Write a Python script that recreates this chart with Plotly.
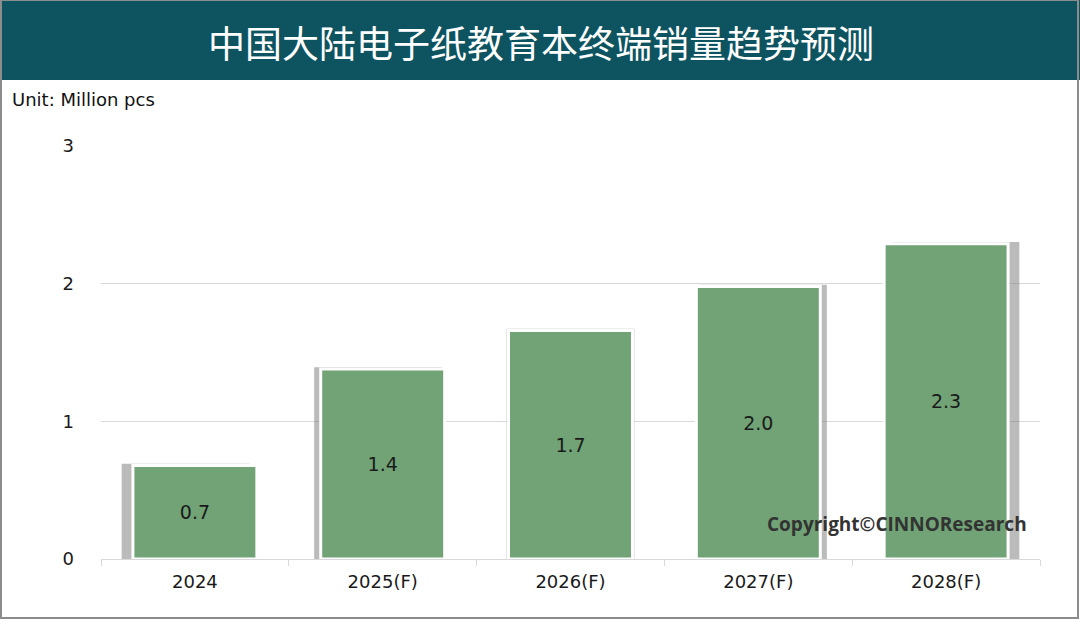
import plotly.graph_objects as go

categories = ["2024", "2025(F)", "2026(F)", "2027(F)", "2028(F)"]
values = [0.68, 1.38, 1.66, 1.98, 2.29]
labels = ["0.7", "1.4", "1.7", "2.0", "2.3"]
shadow_shift = [-0.05, -0.025, 0.0, 0.025, 0.05]
y_ticks = [0, 1, 2, 3]

W, H = 1080, 619
ML, MR, MT, MB = 101, 40, 146, 60
PW, PH = W - ML - MR, H - MT - MB


def px_x(p):
    return (p - ML) / PW


def px_y(p):
    return 1 - (p - MT) / PH


FONT = "'DejaVu Sans', sans-serif"
green = "#71A376"

fig = go.Figure()

# soft shadow behind bars
fig.add_trace(go.Bar(
    x=categories,
    y=[v + 0.012 for v in values],
    width=[0.68] * len(values),
    offset=[-0.34 + s for s in shadow_shift],
    marker=dict(color="rgba(120,120,120,0.5)", line=dict(width=0)),
    hoverinfo="skip",
    showlegend=False,
))

fig.add_trace(go.Bar(
    x=categories,
    y=values,
    width=[0.66] * len(values),
    offset=[-0.33] * len(values),
    text=labels,
    textposition="inside",
    insidetextanchor="middle",
    textangle=0,
    textfont=dict(family=FONT, size=19, color="#1a1a1a"),
    marker=dict(color=green, line=dict(color="#FFFFFF", width=3)),
    showlegend=False,
))

shapes = [
    dict(type="rect", xref="paper", yref="paper",
         x0=px_x(0), x1=px_x(W), y0=px_y(0), y1=px_y(80),
         fillcolor="#0D5460", line=dict(width=0), layer="below"),
    dict(type="rect", xref="paper", yref="paper",
         x0=px_x(1), x1=px_x(W - 2), y0=px_y(0), y1=px_y(H - 1),
         fillcolor="rgba(0,0,0,0)", line=dict(color="#8C8C8C", width=2)),
]

annotations = [
    dict(text="中国大陆电子纸教育本终端销量趋势预测", xref="paper", yref="paper",
         x=px_x(541), y=px_y(42), xanchor="center", yanchor="middle",
         showarrow=False,
         font=dict(family="'Noto Sans CJK SC'", size=37, color="#FFFFFF")),
    dict(text="Unit: Million pcs", xref="paper", yref="paper",
         x=px_x(10), y=px_y(100), xanchor="left", yanchor="middle",
         showarrow=False,
         font=dict(family=FONT, size=18, color="#111111")),
    dict(text="<b>Copyright©CINNOResearch</b>", xref="paper", yref="paper",
         x=px_x(1029), y=px_y(524), xanchor="right", yanchor="middle",
         showarrow=False,
         font=dict(family="'Open Sans', sans-serif", size=19, color="#333333")),
]

fig.update_layout(
    width=W, height=H,
    margin=dict(l=ML, r=MR, t=MT, b=MB, pad=0),
    paper_bgcolor="#FFFFFF", plot_bgcolor="#FFFFFF",
    barmode="overlay",
    shapes=shapes,
    annotations=annotations,
    xaxis=dict(
        type="category",
        showline=True, linecolor="#D9D9D9", linewidth=1,
        ticks="outside", tickson="boundaries", ticklen=6, tickcolor="#D9D9D9",
        tickfont=dict(family=FONT, size=18, color="#1a1a1a"),
        ticklabelstandoff=6,
        showgrid=False,
        range=[-0.5, 4.5],
    ),
    yaxis=dict(
        range=[0, 3],
        tickvals=y_ticks,
        ticktext=[str(t) for t in y_ticks],
        showgrid=True, gridcolor="#D9D9D9", gridwidth=1,
        zeroline=False,
        tickfont=dict(family=FONT, size=18, color="#1a1a1a"),
        ticklabelstandoff=26,
    ),
)

fig.write_html(
    "out.html",
    config={"displayModeBar": False},
    post_script="document.body.style.margin='0';document.body.style.overflow='hidden';",
)
